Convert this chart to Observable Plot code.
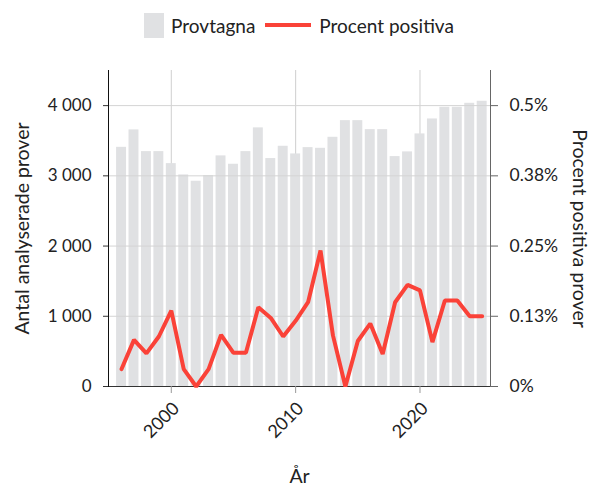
<!DOCTYPE html>
<html><head><meta charset="utf-8">
<script src="https://cdn.jsdelivr.net/npm/d3@7"></script>
<script src="https://cdn.jsdelivr.net/npm/@observablehq/plot@0.6"></script>
<style>
body{margin:0;background:#fff;font-family:Lato,sans-serif;color:#222;}
#legend{height:50px;display:flex;justify-content:center;align-items:center;font-size:19px;}
.sw{width:20px;height:25px;background:#e0e1e3;margin-right:7px;}
.ln{width:46px;height:4px;background:#fa4238;margin:0 8px 0 10px;}
#chart svg{display:block;}
</style></head><body>
<div id="legend"><div class="sw"></div><span>Provtagna</span><div class="ln"></div><span>Procent positiva</span></div>
<div id="chart"></div>
<script>
const years = [1996,1997,1998,1999,2000,2001,2002,2003,2004,2005,2006,2007,2008,2009,2010,2011,2012,2013,2014,2015,2016,2017,2018,2019,2020,2021,2022,2023,2024,2025];
const provtagna = [3406,3654,3345,3345,3174,3013,2923,3004,3284,3165,3345,3683,3246,3421,3312,3402,3392,3549,3786,3786,3658,3658,3274,3341,3597,3810,3976,3976,4033,4062];
const procentPositiva = [0.031,0.083,0.059,0.089,0.135,0.031,0,0.031,0.092,0.06,0.06,0.141,0.122,0.089,0.117,0.15,0.242,0.091,0,0.081,0.112,0.058,0.15,0.181,0.171,0.079,0.153,0.153,0.125,0.125];
const xTicks = [2000,2010,2020];
const yTicks = [0,1000,2000,3000,4000];
const leftTickLabels = ["0","1 000","2 000","3 000","4 000"];
const rightTickLabels = ["0%","0.13%","0.25%","0.38%","0.5%"];
const pctToCount = 4000 / 0.5; // right axis: 0.5% aligns with 4 000

const data = years.map((year, i) => ({year, n: provtagna[i], p: procentPositiva[i]}));

const chart = Plot.plot({
  width: 598, height: 436,
  marginTop: 20, marginBottom: 100, marginLeft: 108, marginRight: 108,
  style: {fontFamily: "Lato, sans-serif", fontSize: "17px", color: "#222", background: "#fff"},
  x: {domain: [1994.95, 2025.67]},
  y: {domain: [0, 4500]},
  marks: [
    Plot.ruleX(xTicks, {stroke: "#cfcfcf"}),
    Plot.ruleY([0], {stroke: "#333"}),
    Plot.rectY(data, {x1: d => d.year - 0.4, x2: d => d.year + 0.4, y: "n", fill: "#e0e1e3"}),
    Plot.ruleY(yTicks.slice(1), {stroke: "#d4d4d4"}),
    Plot.line(data, {x: "year", y: d => d.p * pctToCount, stroke: "#fa4238", strokeWidth: 4, strokeLinejoin: "miter"}),
    Plot.axisX({ticks: xTicks, tickFormat: () => "", tickSize: 7, label: null, stroke: "#999"}),
    Plot.axisX({ticks: xTicks, tickFormat: d => String(d), tickRotate: -45, tickSize: 0, tickPadding: 19, dx: 5, label: null, fontSize: 18}),
    Plot.axisY({anchor: "left", ticks: yTicks, tickFormat: d => leftTickLabels[yTicks.indexOf(d)], label: null, tickSize: 5, tickPadding: 12, stroke: "#333", fontSize: 17}),
    Plot.axisY({anchor: "right", ticks: yTicks, tickFormat: d => rightTickLabels[yTicks.indexOf(d)], label: null, tickSize: 7, tickPadding: 12, stroke: "#666", fontSize: 17.5}),
    Plot.frame({anchor: "left", stroke: "#111"}),
    Plot.frame({anchor: "right", stroke: "#666"}),
    Plot.text(["Antal analyserade prover"], {frameAnchor: "left", textAnchor: "middle", dx: -86, rotate: -90, fontSize: 19.5, fill: "#222"}),
    Plot.text(["Procent positiva prover"], {frameAnchor: "right", textAnchor: "middle", dx: 89, rotate: 90, fontSize: 19.5, fill: "#222"}),
    Plot.text(["År"], {frameAnchor: "bottom", dy: 96, fontSize: 19.5, fill: "#222"})
  ]
});
document.getElementById("chart").appendChild(chart);
</script>
</body></html>
